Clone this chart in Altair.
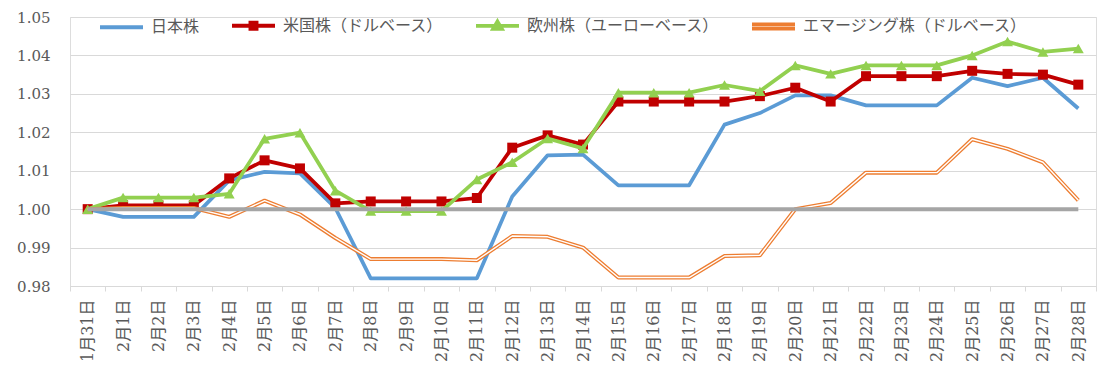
import altair as alt
import pandas as pd

dates = ["1月31日"] + [f"2月{d}日" for d in range(1, 29)]

japan = [1.000, 0.998, 0.998, 0.998, 1.0075, 1.0097, 1.0093, 1.0003, 0.982, 0.982,
         0.982, 0.982, 1.0033, 1.014, 1.0142, 1.0062, 1.0062, 1.0062, 1.022, 1.025,
         1.0296, 1.0296, 1.027, 1.027, 1.027, 1.0342, 1.032, 1.0342, 1.0262]
us = [1.000, 1.001, 1.001, 1.001, 1.008, 1.0127, 1.0106, 1.0015, 1.002, 1.002,
      1.002, 1.0029, 1.016, 1.0192, 1.0168, 1.028, 1.028, 1.028, 1.028, 1.0294,
      1.0316, 1.028, 1.0346, 1.0346, 1.0346, 1.036, 1.0352, 1.035, 1.0324]
europe = [1.000, 1.003, 1.003, 1.003, 1.004, 1.0183, 1.0199, 1.0048, 0.9995, 0.9995,
          0.9995, 1.0077, 1.0122, 1.0184, 1.0158, 1.0303, 1.0303, 1.0303, 1.0323, 1.0307,
          1.0374, 1.0352, 1.0374, 1.0374, 1.0374, 1.0400, 1.0436, 1.0409, 1.0418]
emerging = [1.000, 1.0003, 1.0003, 1.0003, 0.998, 1.0022, 0.9986, 0.9925, 0.987, 0.987,
            0.987, 0.9867, 0.993, 0.9928, 0.990, 0.9822, 0.9822, 0.9822, 0.9878, 0.988,
            1.000, 1.0016, 1.0095, 1.0095, 1.0095, 1.0182, 1.0157, 1.0122, 1.0023]
baseline = [1.0] * len(dates)

names = ["日本株", "米国株（ドルベース）", "欧州株（ユーローベース）", "エマージング株（ドルベース）"]
colors = ["#5b9bd5", "#c00000", "#92d050", "#ed7d31"]

rows = []
for name, vals in zip(names, [japan, us, europe, emerging]):
    for d, v in zip(dates, vals):
        rows.append({"date": d, "series": name, "value": v})
df = pd.DataFrame(rows)
base_df = pd.DataFrame({"date": dates, "value": baseline})

xenc = alt.X("date:N", sort=dates, bandPosition=0.5,
             scale=alt.Scale(type="band", domain=dates, paddingInner=0, paddingOuter=0),
             axis=alt.Axis(title=None, labelAngle=-90, tickBand="extent", tickSize=5,
                           tickColor="#d9d9d9", domainColor="#d9d9d9", labelPadding=8,
                           labelFont="DejaVu Serif, 'Noto Sans CJK JP'", labelFontSize=16,
                           labelColor="#595959", grid=False))
yenc = alt.Y("value:Q",
             scale=alt.Scale(domain=[0.98, 1.05], nice=False, zero=False),
             axis=alt.Axis(title=None, values=[0.98, 0.99, 1.00, 1.01, 1.02, 1.03, 1.04, 1.05],
                           format=".2f", grid=True, gridColor="#d9d9d9", ticks=False,
                           domain=False, labelPadding=20, labelFont="DejaVu Serif",
                           labelFontSize=15, labelColor="#595959"))

# legend symbol paths (line through marker)
ln = "M-1,0H1"
sq = "M-1,0H1M-0.14,-0.14H0.14V0.14H-0.14Z"
tri = "M-1,0H1M0,-0.2L0.2,0.14H-0.2Z"
dbl = "M-1,-0.095H1M-1,0.095H1"
sym_widths = [4, 3.75, 4, 1.1]

legend = alt.Legend(
    title=None, orient="none", legendX=28, legendY=-15, direction="horizontal",
    symbolSize=1849, labelFont="Noto Sans CJK JP", labelLimit=400,
    labelFontSize=16, labelColor="#595959", columnPadding=24, labelOffset=6,
    padding=0,
)


def series_line(i, width=3.75):
    return alt.Chart(df).transform_filter(alt.datum.series == names[i]).mark_line(
        color=colors[i], strokeWidth=width, strokeJoin="round").encode(x=xenc, y=yenc)


line_jp = series_line(0)
line_us = series_line(1)
line_eu = series_line(2)
line_em = series_line(3, 4)

# empty layer that only supplies the legend
legend_layer = alt.Chart(df).transform_filter("datum.value < 0").mark_point(
    filled=True, opacity=1, size=1849).encode(
    x=xenc, y=yenc,
    color=alt.Color("series:N", sort=names, scale=alt.Scale(domain=names, range=colors), legend=legend),
    stroke=alt.Stroke("series:N", sort=names, scale=alt.Scale(domain=names, range=colors), legend=legend),
    shape=alt.Shape("series:N", sort=names, scale=alt.Scale(domain=names, range=[ln, sq, tri, dbl]), legend=legend),
    strokeWidth=alt.StrokeWidth("series:N", sort=names, scale=alt.Scale(domain=names, range=sym_widths), legend=legend),
)

red_pts = alt.Chart(df).transform_filter(alt.datum.series == names[1]).mark_point(
    shape="square", filled=True, color=colors[1], size=100, opacity=1).encode(x=xenc, y=yenc)
green_pts = alt.Chart(df).transform_filter(alt.datum.series == names[2]).mark_point(
    shape="triangle-up", filled=True, color=colors[2], size=120, opacity=1).encode(x=xenc, y=yenc)
em_inner = alt.Chart(df).transform_filter(alt.datum.series == names[3]).mark_line(
    color="#ffffff", strokeWidth=1.4, strokeJoin="round").encode(x=xenc, y=yenc)
base_line = alt.Chart(base_df).mark_line(color="#a5a5a5", strokeWidth=4).encode(x=xenc, y=yenc)

chart = alt.layer(line_jp, line_us, red_pts, line_eu, green_pts, line_em, em_inner,
                  base_line, legend_layer).properties(
    width=1026, height=269,
    autosize=alt.AutoSizeParams(type="none"),
    padding={"left": 62, "top": 9, "right": 16, "bottom": 79},
).configure_view(stroke=None).configure(background="white")

chart.save("out.html", embed_options={"renderer": "svg", "actions": False})
